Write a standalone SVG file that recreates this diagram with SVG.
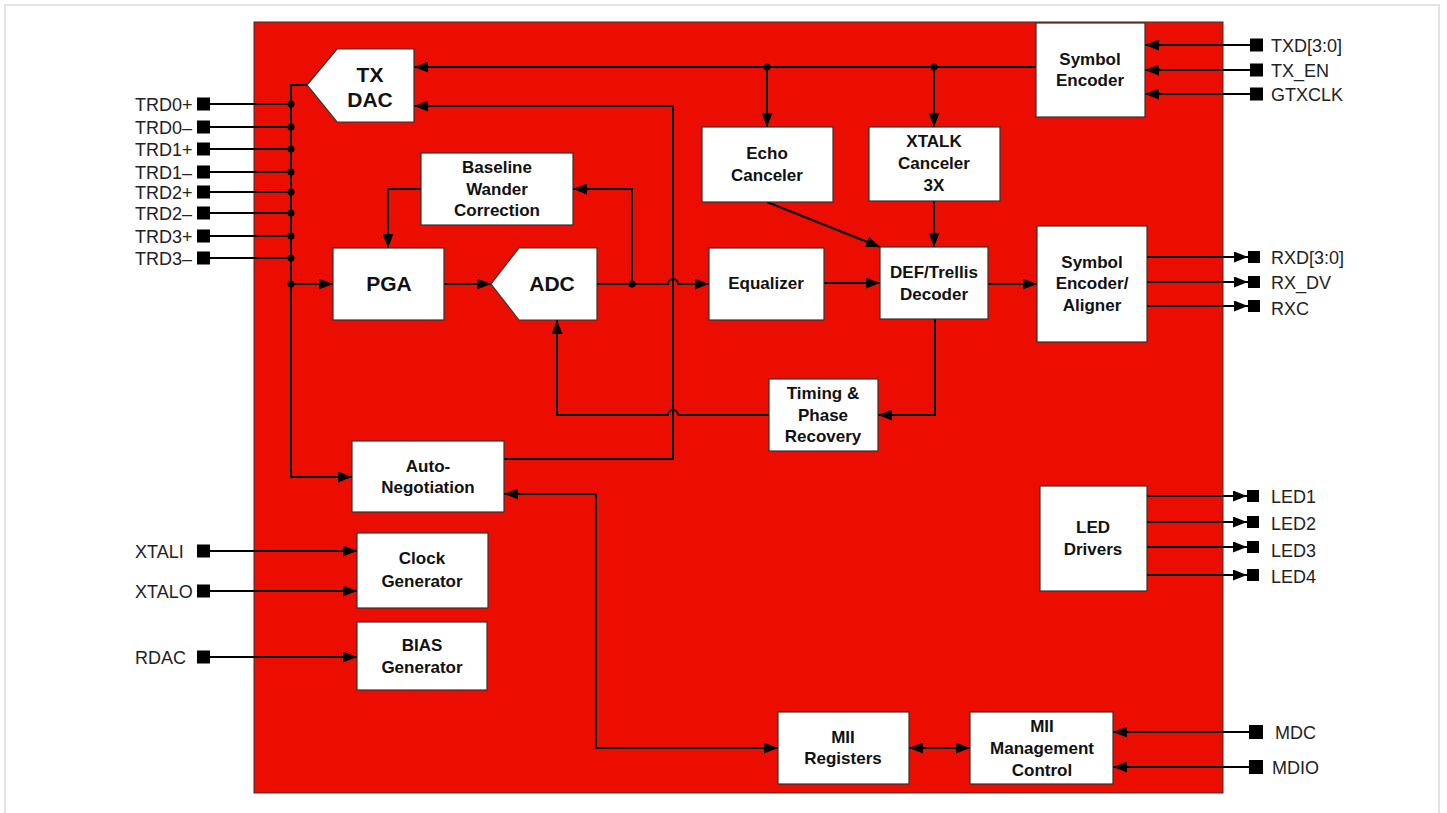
<svg xmlns="http://www.w3.org/2000/svg" width="1447" height="813" viewBox="0 0 1447 813">
<defs>
<marker id="ah" markerUnits="userSpaceOnUse" markerWidth="14" markerHeight="11" refX="14" refY="5.5" orient="auto-start-reverse"><path d="M0,0 L14,5.5 L0,11 z" fill="#000"/></marker>
</defs>
<style>
.box{fill:#fff;stroke:#333;stroke-width:1.2}
.t{font-family:"Liberation Sans",Arial,sans-serif;font-weight:bold;font-size:17px;text-anchor:middle;fill:#111}
.tb{font-family:"Liberation Sans",Arial,sans-serif;font-weight:bold;font-size:21px;text-anchor:middle;fill:#111}
.lbl{font-family:"Liberation Sans",Arial,sans-serif;font-size:18px;fill:#222}
.w{fill:none;stroke:#000;stroke-width:2}
.a{marker-end:url(#ah)}
.ab{marker-start:url(#ah);marker-end:url(#ah)}
.pin{fill:#000}
.dot{fill:#000}
</style>
<rect x="0" y="0" width="1447" height="813" fill="#fff"/>
<rect x="5" y="5" width="1434" height="830" fill="none" stroke="#e4e4e4" stroke-width="2"/>
<rect id="chip" x="254" y="22" width="969" height="771" fill="#EB0E00" stroke="#333" stroke-width="1"/>

<g id="connectors">
<path class="w a" d="M1036,67 H414"/>
<path class="w a" d="M767,67 V127"/>
<path class="w a" d="M934,67 V127"/>
<path class="w a" d="M767,202 L880,247"/>
<path class="w a" d="M934,201 V247"/>
<path class="w" d="M210,104 H291 M210,127 H291 M210,149 H291 M210,172 H291 M210,192 H291 M210,213 H291 M210,236 H291 M210,258 H291"/>
<path class="w a" d="M307,85 H291 V477 H352"/>
<path class="w a" d="M291,284 H333"/>
<path class="w a" d="M444,284 H491"/>
<path class="w a" d="M597,284 H668 a5,5 0 0 1 10,0 H709"/>
<path class="w a" d="M632,284 V189 H573"/>
<path class="w a" d="M421,189 H388 V248"/>
<path class="w a" d="M824,283 H880"/>
<path class="w a" d="M988,284 H1037"/>
<path class="w a" d="M935,319 V415 H878"/>
<path class="w a" d="M769,415 H678 a5,5 0 0 0 -10,0 H557 V320"/>
<path class="w a" d="M504,459 H673 V106 H414"/>
<path class="w ab" d="M504,494 H596 V748 H778"/>
<path class="w ab" d="M909,748 H970"/>
<path class="w a" d="M1250,45 H1145"/>
<path class="w a" d="M1250,70 H1145"/>
<path class="w a" d="M1250,94 H1145"/>
<path class="w a" d="M1147,257 H1248"/>
<path class="w a" d="M1147,282 H1248"/>
<path class="w a" d="M1147,306 H1248"/>
<path class="w a" d="M1147,496 H1247"/>
<path class="w a" d="M1147,522 H1247"/>
<path class="w a" d="M1147,547 H1247"/>
<path class="w a" d="M1147,575 H1247"/>
<path class="w a" d="M1249,732 H1113"/>
<path class="w a" d="M1249,767 H1113"/>
<path class="w a" d="M210,551 H357"/>
<path class="w a" d="M210,591 H357"/>
<path class="w a" d="M210,657 H357"/>
<circle class="dot" cx="767" cy="67" r="3.5"/>
<circle class="dot" cx="934" cy="67" r="3.5"/>
<circle class="dot" cx="632" cy="284" r="3.5"/>
<circle class="dot" cx="291" cy="104" r="3.5"/>
<circle class="dot" cx="291" cy="127" r="3.5"/>
<circle class="dot" cx="291" cy="149" r="3.5"/>
<circle class="dot" cx="291" cy="172" r="3.5"/>
<circle class="dot" cx="291" cy="192" r="3.5"/>
<circle class="dot" cx="291" cy="213" r="3.5"/>
<circle class="dot" cx="291" cy="236" r="3.5"/>
<circle class="dot" cx="291" cy="258" r="3.5"/>
<circle class="dot" cx="291" cy="284" r="3.5"/>
</g>

<g id="txdac"><polygon class="box" points="307,85 337,49 414,49 414,122 337,122"/><text class="tb" x="370" y="82">TX</text><text class="tb" x="370" y="107">DAC</text></g>
<g id="pga"><rect class="box" x="333" y="248" width="111" height="72"/><text class="tb" x="389" y="291">PGA</text></g>
<g id="adc"><polygon class="box" points="491,284 519,248 597,248 597,320 519,320"/><text class="tb" x="552" y="291">ADC</text></g>
<g id="baseline"><rect class="box" x="421" y="153" width="152" height="72"/><text class="t" x="497" y="173">Baseline</text><text class="t" x="497" y="195">Wander</text><text class="t" x="497" y="216">Correction</text></g>
<g id="echo"><rect class="box" x="702" y="127" width="131" height="75"/><text class="t" x="767" y="159">Echo</text><text class="t" x="767" y="181">Canceler</text></g>
<g id="xtalk"><rect class="box" x="869" y="127" width="131" height="74"/><text class="t" x="934" y="147">XTALK</text><text class="t" x="934" y="169">Canceler</text><text class="t" x="934" y="191">3X</text></g>
<g id="equalizer"><rect class="box" x="709" y="248" width="115" height="72"/><text class="t" x="766" y="289">Equalizer</text></g>
<g id="def"><rect class="box" x="880" y="247" width="108" height="72"/><text class="t" x="934" y="278">DEF/Trellis</text><text class="t" x="934" y="300">Decoder</text></g>
<g id="symenc"><rect class="box" x="1036" y="23" width="109" height="94"/><text class="t" x="1090" y="65">Symbol</text><text class="t" x="1090" y="86">Encoder</text></g>
<g id="symalign"><rect class="box" x="1037" y="226" width="110" height="116"/><text class="t" x="1092" y="268">Symbol</text><text class="t" x="1092" y="289">Encoder/</text><text class="t" x="1092" y="311">Aligner</text></g>
<g id="timing"><rect class="box" x="769" y="379" width="109" height="72"/><text class="t" x="823" y="399">Timing &amp;</text><text class="t" x="823" y="421">Phase</text><text class="t" x="823" y="442">Recovery</text></g>
<g id="autoneg"><rect class="box" x="352" y="441" width="152" height="71"/><text class="t" x="428" y="472">Auto-</text><text class="t" x="428" y="493">Negotiation</text></g>
<g id="clockgen"><rect class="box" x="357" y="533" width="131" height="75"/><text class="t" x="422" y="564">Clock</text><text class="t" x="422" y="587">Generator</text></g>
<g id="biasgen"><rect class="box" x="357" y="622" width="130" height="68"/><text class="t" x="422" y="651">BIAS</text><text class="t" x="422" y="673">Generator</text></g>
<g id="led"><rect class="box" x="1040" y="486" width="107" height="105"/><text class="t" x="1093" y="533">LED</text><text class="t" x="1093" y="555">Drivers</text></g>
<g id="miireg"><rect class="box" x="778" y="712" width="131" height="72"/><text class="t" x="843" y="743">MII</text><text class="t" x="843" y="764">Registers</text></g>
<g id="miimgmt"><rect class="box" x="970" y="712" width="143" height="72"/><text class="t" x="1042" y="732">MII</text><text class="t" x="1042" y="754">Management</text><text class="t" x="1042" y="776">Control</text></g>

<g id="pins-left">
<rect class="pin" x="197" y="97.5" width="13" height="13"/><text class="lbl" x="135" y="110.5">TRD0+</text>
<rect class="pin" x="197" y="120.5" width="13" height="13"/><text class="lbl" x="135" y="133.5">TRD0–</text>
<rect class="pin" x="197" y="142.5" width="13" height="13"/><text class="lbl" x="135" y="155.5">TRD1+</text>
<rect class="pin" x="197" y="165.5" width="13" height="13"/><text class="lbl" x="135" y="178.5">TRD1–</text>
<rect class="pin" x="197" y="185.5" width="13" height="13"/><text class="lbl" x="135" y="198.5">TRD2+</text>
<rect class="pin" x="197" y="206.5" width="13" height="13"/><text class="lbl" x="135" y="219.5">TRD2–</text>
<rect class="pin" x="197" y="229.5" width="13" height="13"/><text class="lbl" x="135" y="242.5">TRD3+</text>
<rect class="pin" x="197" y="251.5" width="13" height="13"/><text class="lbl" x="135" y="264.5">TRD3–</text>
<rect class="pin" x="197" y="544.5" width="13" height="13"/><text class="lbl" x="135" y="557.5">XTALI</text>
<rect class="pin" x="197" y="584.5" width="13" height="13"/><text class="lbl" x="135" y="597.5">XTALO</text>
<rect class="pin" x="197" y="650.5" width="13" height="13"/><text class="lbl" x="135" y="663.5">RDAC</text>
</g>
<g id="pins-right">
<rect class="pin" x="1250" y="38.5" width="13" height="13"/><text class="lbl" x="1271" y="51.5">TXD[3:0]</text>
<rect class="pin" x="1250" y="63.5" width="13" height="13"/><text class="lbl" x="1271" y="76.5">TX_EN</text>
<rect class="pin" x="1250" y="87.5" width="13" height="13"/><text class="lbl" x="1271" y="100.5">GTXCLK</text>
<rect class="pin" x="1248" y="251" width="12" height="12"/><text class="lbl" x="1271" y="263.5">RXD[3:0]</text>
<rect class="pin" x="1248" y="276" width="12" height="12"/><text class="lbl" x="1271" y="288.5">RX_DV</text>
<rect class="pin" x="1248" y="300" width="12" height="12"/><text class="lbl" x="1271" y="314.5">RXC</text>
<rect class="pin" x="1247" y="490" width="12" height="12"/><text class="lbl" x="1271" y="503">LED1</text>
<rect class="pin" x="1247" y="516" width="12" height="12"/><text class="lbl" x="1271" y="530">LED2</text>
<rect class="pin" x="1247" y="541" width="12" height="12"/><text class="lbl" x="1271" y="557">LED3</text>
<rect class="pin" x="1247" y="569" width="12" height="12"/><text class="lbl" x="1271" y="583">LED4</text>
<rect class="pin" x="1249" y="725" width="14" height="14"/><text class="lbl" x="1275" y="739">MDC</text>
<rect class="pin" x="1249" y="760" width="14" height="14"/><text class="lbl" x="1272" y="774">MDIO</text>
</g>
</svg>
